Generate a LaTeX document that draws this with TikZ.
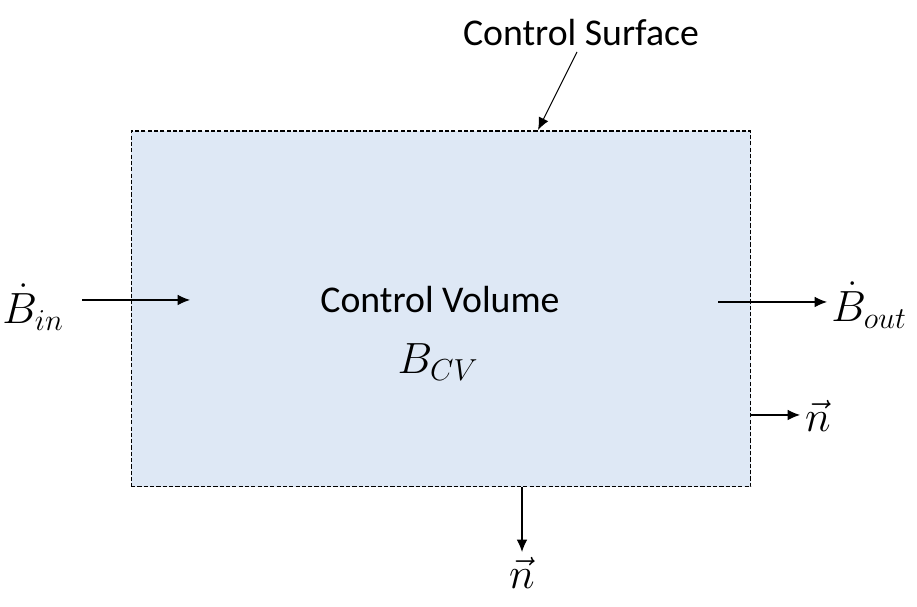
\documentclass[tikz,border=0pt]{standalone}
\usepackage{fontspec}
\setmainfont{Carlito}
\usetikzlibrary{positioning,arrows.meta}
\definecolor{cvblue}{HTML}{DEE8F5}
\begin{document}
\begin{tikzpicture}[x=0.02cm,y=0.02cm,>={Latex[length=7pt,width=6pt]},font=\fontsize{21.5}{26}\selectfont]
\useasboundingbox (0,0) rectangle (917,607);
\tikzset{flow/.style={->, line width=0.6pt}, sym/.style={font=\fontsize{24}{28}\selectfont}}

\node[draw, fill=cvblue, line width=0.6pt, dash pattern=on 2.4pt off 1.2pt, inner sep=0pt,
  minimum width=12.4cm, minimum height=7.12cm] (cv) at (441,298) {};
\node (cvname) at (440,307) {Control Volume};
\node[sym] (bcv) at (438,245) {$B_{CV}$};

\node (cs) at (581,574) {Control Surface};
\coordinate (csstart) at (577,555);
\coordinate (csend) at (538,477);
\draw[flow] (csstart) -- (csend);

\node[sym] (bin) at (33,300) {$\dot{B}_{in}$};
\coordinate (inA) at (82,307);
\coordinate (inB) at (190,307);
\draw[flow] (inA) -- (inB);

\node[sym] (bout) at (869,302) {$\dot{B}_{out}$};
\coordinate (outA) at (718,305);
\coordinate (outB) at (827,305);
\draw[flow] (outA) -- (outB);

\node[sym] (nright) at (818,191) {$\vec{n}$};
\coordinate (nrA) at (751,192);
\coordinate (nrB) at (800,192);
\draw[flow] (nrA) -- (nrB);

\node[sym] (nbottom) at (522,34) {$\vec{n}$};
\coordinate (nbA) at (522,120);
\coordinate (nbB) at (522,55);
\draw[flow] (nbA) -- (nbB);
\end{tikzpicture}
\end{document}
